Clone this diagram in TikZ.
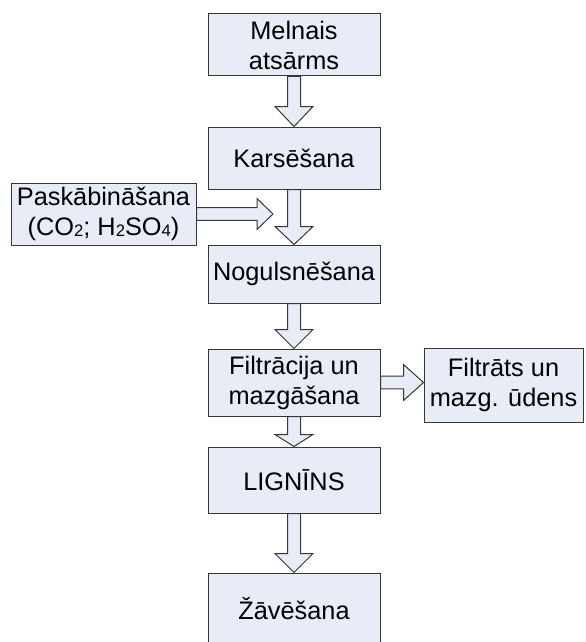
\documentclass[tikz,border=0pt]{standalone}
\usepackage{fontspec}
\setmainfont{Liberation Sans}
\usetikzlibrary{calc}
\definecolor{boxfill}{RGB}{232,236,247}
\definecolor{boxline}{RGB}{55,55,55}
\newcommand{\chemsub}[1]{\raisebox{-1pt}{\fontsize{12.5}{12.5}\selectfont #1}}
\tikzset{
  stage/.style={draw=boxline, fill=boxfill, line width=0.75pt, inner sep=0pt,
    align=center, minimum width=129pt, font=\fontsize{19}{22.5}\selectfont},
  blockarrow/.style={draw=boxline, fill=boxfill, line width=0.75pt, line join=miter}
}
% down block arrow: from node #1 to node #2, head length #3
\newcommand{\downblk}[3]{%
  \draw[blockarrow] let \p1=(#1.south), \p2=(#2.north) in
    (\x1-4.875pt,\y1) -- (\x1-4.875pt,\y2+#3) -- (\x1-14.25pt,\y2+#3) -- (\x1,\y2)
    -- (\x1+14.25pt,\y2+#3) -- (\x1+4.875pt,\y2+#3) -- (\x1+4.875pt,\y1) -- cycle;}
% right block arrow: from node #1 to point #2, head length #3, head half width #4
\newcommand{\rightblk}[4]{%
  \draw[blockarrow] let \p1=(#1.east), \p2=(#2) in
    (\x1,\y1+4.7pt) -- (\x2-#3,\y1+4.7pt) -- (\x2-#3,\y1+#4) -- (\x2,\y1)
    -- (\x2-#3,\y1-#4) -- (\x2-#3,\y1-4.7pt) -- (\x1,\y1-4.7pt) -- cycle;}

\begin{document}
\begin{tikzpicture}[x=0.75pt,y=-0.75pt]
\useasboundingbox (0,0) rectangle (585,642);

% main line
\node[stage, minimum height=46.5pt] (melnais) at (294,45) {Melnais\\atsārms};
\node[stage, minimum height=46.5pt] (karses) at (294,158) {Karsēšana};
\node[stage, minimum height=43.5pt] (nogul) at (294,274) {Nogulsnēšana};
\node[stage, minimum height=50.25pt] (filtr) at (294,382.5) {Filtrācija un\\mazgāšana};
\node[stage, minimum height=49.5pt] (lignins) at (294,480) {LIGNĪNS};
\node[stage, minimum height=54pt] (zaves) at (294,609) {Žāvēšana};

% side boxes
\node[stage, minimum width=138.75pt, minimum height=46.5pt] (paskab) at (103.5,214)
  {Paskābināšana\\(CO\chemsub{2}; H\chemsub{2}SO\chemsub{4})};
\node[stage, minimum width=119.25pt, minimum height=55.5pt] (filtrats) at (503.5,385)
  {Filtrāts un\\mazg. ūdens};

\coordinate (pasktip) at (273,214);

% arrows
\downblk{melnais}{karses}{15pt}
\downblk{karses}{nogul}{13.5pt}
\downblk{nogul}{filtr}{14.25pt}
\downblk{filtr}{lignins}{9pt}
\downblk{lignins}{zaves}{14.25pt}
\rightblk{paskab}{pasktip}{12pt}{11.6pt}
\rightblk{filtr}{filtrats.west}{15pt}{13.5pt}
\end{tikzpicture}
\end{document}
